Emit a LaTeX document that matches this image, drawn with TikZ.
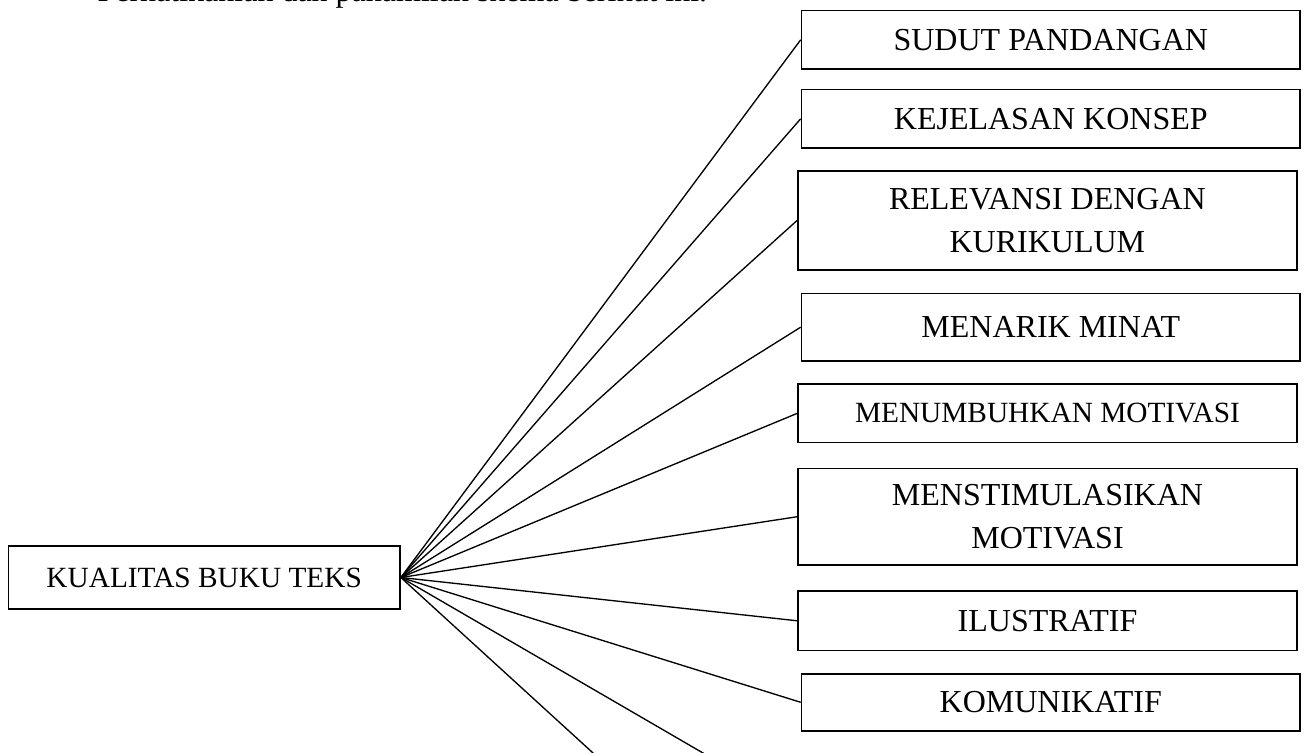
\documentclass[tikz,border=0pt]{standalone}
\usepackage{fontspec}
\setmainfont{Liberation Serif}
\tikzset{
	kotak/.style={draw,line width=0.6pt,inner sep=0pt,align=center,minimum width=187pt,font=\fontsize{12}{16}\selectfont},
	garis/.style={line width=0.5pt}
}
\begin{document}
\begin{tikzpicture}[x=0.375pt,y=-0.375pt]
	\useasboundingbox (0,0) rectangle (1305,753);
	\clip (0,0) rectangle (1305,753);
	\node[anchor=base west,inner sep=0pt,font=\fontsize{12}{14}\selectfont] (judul) at (97,1) {Perhatikanlah dan pahamilah skema berikut ini.};
	\node[kotak,minimum width=146.9pt,minimum height=23.6pt,font=\fontsize{11}{13}\selectfont] (kualitas) at (204.2,577.5) {KUALITAS BUKU TEKS};
	\node[kotak,minimum height=21.9pt] (sudut) at (1050.8,39.8) {SUDUT PANDANGAN};
	\node[kotak,minimum height=22.1pt] (kejelasan) at (1050.8,118.8) {KEJELASAN KONSEP};
	\node[kotak,minimum height=37.2pt] (relevansi) at (1047.4,220.3) {RELEVANSI DENGAN\\KURIKULUM};
	\node[kotak,minimum height=25.4pt] (minat) at (1050.8,327.2) {MENARIK MINAT};
	\node[kotak,minimum height=22pt,font=\fontsize{11}{13}\selectfont] (menumbuhkan) at (1047.5,413.3) {MENUMBUHKAN MOTIVASI};
	\node[kotak,minimum height=36.3pt] (menstimulasikan) at (1047.5,516.7) {MENSTIMULASIKAN\\MOTIVASI};
	\node[kotak,minimum height=22.4pt] (ilustratif) at (1047.5,620.8) {ILUSTRATIF};
	\node[kotak,minimum height=21.3pt] (komunikatif) at (1050.8,702.3) {KOMUNIKATIF};
	\coordinate (bawah1) at (622.6,780);
	\coordinate (bawah2) at (749.5,780);
	\foreach \t in {sudut,kejelasan,relevansi,minat,menumbuhkan,menstimulasikan,ilustratif,komunikatif}
		\draw[garis] (kualitas.east) -- (\t.west);
	\draw[garis] (kualitas.east) -- (bawah1);
	\draw[garis] (kualitas.east) -- (bawah2);
\end{tikzpicture}
\end{document}
